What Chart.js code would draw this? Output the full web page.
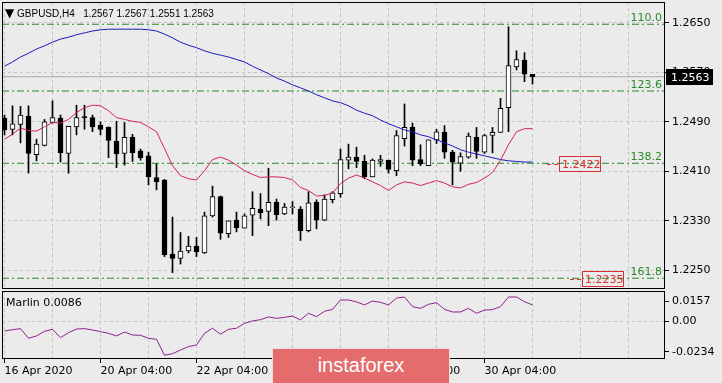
<!DOCTYPE html>
<html>
<head>
<meta charset="utf-8">
<script src="https://cdn.jsdelivr.net/npm/chart.js@4.4.0/dist/chart.umd.min.js"></script>
<style>
  body { margin: 0; width: 722px; height: 383px; overflow: hidden; position: relative; background: #ebebeb; }
  canvas { position: absolute; left: 0; }
  #main { top: 0; }
  #osc { top: 290px; }
  .txt { position: absolute; font-family: "DejaVu Sans", sans-serif; font-size: 11px; color: #000; white-space: pre; }
  #hdr { left: 5px; top: 6px; font-family: "Liberation Sans", sans-serif; font-size: 10px; }
  #hdr b { font-weight: normal; font-family: "DejaVu Sans", sans-serif; font-size: 12px; }
  #marlin { left: 6px; top: 296px; }
  #wm { position: absolute; left: 272px; top: 348px; width: 176px; height: 35px; background: #e46c6c;
        border: 1px solid #f4dada; border-bottom: none; color: #fff; font-family: "Liberation Sans", sans-serif;
        font-size: 20px; text-align: center; line-height: 33px; }
</style>
</head>
<body>
<canvas id="main" width="722" height="290"></canvas>
<canvas id="osc" width="722" height="93"></canvas>
<div class="txt" id="hdr"><b>▼</b> GBPUSD,H4   1.2567 1.2567 1.2551 1.2563</div>
<div class="txt" id="marlin">Marlin 0.0086</div>
<div id="wm">instaforex</div>
<script>
// --- data (GBPUSD H4) ---
const open  = [1.2496,1.2478,1.2486,1.2499,1.2437,1.2452,1.2489,1.2496,1.2439,1.2482,
               1.2498,1.2497,1.2485,1.2481,1.2459,1.2439,1.2465,1.2443,1.2435,1.2400,
               1.2396,1.2276,1.2269,1.2281,1.2289,1.2278,1.2338,1.2369,1.2309,1.2331,
               1.2318,1.2339,1.2349,1.2345,1.2360,1.2341,1.2351,1.2349,1.2314,1.2360,
               1.2331,1.2364,1.2374,1.2428,1.2433,1.2426,1.2401,1.2426,1.2428,1.2411,
               1.2463,1.2481,1.2429,1.2419,1.2461,1.2473,1.2441,1.2423,1.2433,1.2465,
               1.2441,1.2468,1.2473,1.2513,1.2579,1.2590,1.2567];
const high  = [1.2501,1.2516,1.2515,1.2516,1.2462,1.2494,1.2524,1.2501,1.2483,1.2517,
               1.2517,1.2501,1.2490,1.2482,1.2491,1.2489,1.2470,1.2446,1.2441,1.2422,
               1.2397,1.2336,1.2311,1.2305,1.2303,1.2344,1.2386,1.2370,1.2330,1.2344,
               1.2341,1.2377,1.2374,1.2415,1.2365,1.2358,1.2361,1.2353,1.2377,1.2364,
               1.2372,1.2377,1.2446,1.2454,1.2449,1.2436,1.2430,1.2436,1.2428,1.2476,
               1.2519,1.2488,1.2453,1.2461,1.2478,1.2484,1.2444,1.2440,1.2472,1.2481,
               1.2470,1.2481,1.2528,1.2644,1.2605,1.2602,1.2567];
const low   = [1.2469,1.2469,1.2456,1.2407,1.2427,1.2451,1.2488,1.2425,1.2407,1.2469,
               1.2478,1.2474,1.2469,1.2432,1.2416,1.2420,1.2426,1.2428,1.2388,1.2380,
               1.2272,1.2246,1.2260,1.2278,1.2272,1.2277,1.2336,1.2300,1.2303,1.2312,
               1.2318,1.2306,1.2333,1.2322,1.2331,1.2340,1.2341,1.2298,1.2312,1.2317,
               1.2330,1.2359,1.2368,1.2414,1.2416,1.2398,1.2401,1.2418,1.2407,1.2403,
               1.2451,1.2419,1.2419,1.2419,1.2455,1.2431,1.2388,1.2410,1.2431,1.2431,
               1.2439,1.2440,1.2473,1.2474,1.2574,1.2555,1.2551];
const close = [1.2477,1.2487,1.2501,1.2439,1.2454,1.2490,1.2497,1.2440,1.2483,1.2497,
               1.2497,1.2482,1.2478,1.2460,1.2438,1.2465,1.2440,1.2432,1.2401,1.2393,
               1.2275,1.2269,1.2281,1.2289,1.2280,1.2338,1.2369,1.2310,1.2330,1.2319,
               1.2338,1.2350,1.2343,1.2360,1.2340,1.2352,1.2351,1.2314,1.2359,1.2331,
               1.2365,1.2375,1.2429,1.2433,1.2426,1.2401,1.2428,1.2429,1.2413,1.2468,
               1.2481,1.2428,1.2422,1.2461,1.2474,1.2441,1.2425,1.2434,1.2467,1.2442,
               1.2468,1.2473,1.2512,1.2581,1.2591,1.2567,1.2563];
// red and blue moving averages
const maRed  = [1.2462,1.2470,1.2480,1.2476,1.2475,1.2482,1.2489,1.2488,1.2494,1.2505,
                1.2513,1.2517,1.2516,1.2508,1.2497,1.2494,1.2491,1.2489,1.2482,1.2474,
                1.2447,1.2419,1.2403,1.2398,1.2396,1.2411,1.2429,1.2433,1.2428,1.2420,
                1.2411,1.2405,1.2400,1.2401,1.2401,1.2400,1.2396,1.2384,1.2379,1.2370,
                1.2371,1.2375,1.2390,1.2399,1.2404,1.2399,1.2393,1.2387,1.2379,1.2388,
                1.2393,1.2391,1.2387,1.2391,1.2395,1.2391,1.2385,1.2383,1.2389,1.2392,
                1.2399,1.2408,1.2428,1.2453,1.2474,1.2479,1.2479];
const maBlue = [1.2580,1.2587,1.2595,1.2601,1.2608,1.2613,1.2619,1.2624,1.2627,1.2631,
                1.2634,1.2637,1.2639,1.2640,1.2640,1.2640,1.2640,1.2640,1.2639,1.2637,
                1.2632,1.2626,1.2619,1.2614,1.2610,1.2605,1.2601,1.2598,1.2595,1.2591,
                1.2587,1.2580,1.2574,1.2568,1.2561,1.2556,1.2550,1.2545,1.2540,1.2534,
                1.2529,1.2524,1.2521,1.2516,1.2509,1.2504,1.2500,1.2493,1.2487,1.2482,
                1.2477,1.2474,1.2469,1.2466,1.2461,1.2456,1.2451,1.2445,1.2441,1.2438,
                1.2435,1.2432,1.2429,1.2427,1.2426,1.2425,1.2425];
// Marlin oscillator
const marlin = [-0.0073,-0.0063,-0.0055,-0.0129,-0.0111,-0.0075,-0.0060,-0.0124,-0.0086,-0.0058,
                -0.0055,-0.0065,-0.0078,-0.0091,-0.0111,-0.0081,-0.0104,-0.0106,-0.0129,-0.0137,
                -0.0259,-0.0247,-0.0219,-0.0193,-0.0180,-0.0091,-0.0052,-0.0098,-0.0060,-0.0052,
                -0.0014,0.0004,0.0014,0.0035,0.0024,0.0032,0.0042,0.0012,0.0063,0.0037,
                0.0078,0.0093,0.0165,0.0165,0.0150,0.0127,0.0157,0.0147,0.0127,0.0180,
                0.0188,0.0114,0.0101,0.0132,0.0144,0.0093,0.0073,0.0073,0.0101,0.0063,
                0.0088,0.0091,0.0114,0.0188,0.0188,0.0152,0.0127];
// fibo levels
const fiboNames  = ['110.0', '123.6', '138.2', '161.8'];
const fiboLevels = [1.2648, 1.2540, 1.2423, 1.2237];
// price labels placed on chart (value, bar)
const priceMarks = [{v: 1.2422, bar: 69.3}, {v: 1.2235, bar: 72.2}];
const lastPrice = 1.2563;
// axes
const priceTicks = [1.2250, 1.2330, 1.2410, 1.2490, 1.2570, 1.2650];
const oscTicks = [-0.0234, 0, 0.0157];
const timeLabels = {0: '16 Apr 2020', 12: '20 Apr 04:00', 24: '22 Apr 04:00', 36: '24 Apr 04:00', 48: '28 Apr 04:00', 60: '30 Apr 04:00'};
const dayTicks = [0, 6, 12, 18, 24, 30, 36, 42, 48, 54, 60, 66, 72, 78];

const X_MIN = -0.3125, X_MAX = X_MIN + 663 / 8;
const GRID = '#c2c2c2';
const FONT = {family: 'DejaVu Sans', size: 11};

const xy = arr => arr.map((v, i) => ({x: i, y: v}));
const hline = v => [{x: X_MIN, y: v}, {x: X_MAX, y: v}];
// chart.js reserves room for half a label at the ends of an axis, not wanted here
const noPad = s => { s.paddingTop = 0; s.paddingBottom = 0; s.paddingLeft = 0; s.paddingRight = 0; };

// black frame round the plot area
const frame = {
  id: 'frame',
  afterDraw(chart) {
    const {ctx, chartArea: a} = chart;
    ctx.save();
    ctx.strokeStyle = '#000';
    ctx.lineWidth = 1;
    ctx.strokeRect(a.left + 0.5, a.top + 0.5, a.right - a.left - 1, a.bottom - a.top - 1);
    ctx.restore();
  }
};

const marks = {
  id: 'marks',
  afterDraw(chart) {
    const {ctx, chartArea: a, scales: {x, y}} = chart;
    ctx.save();
    ctx.font = '11px "DejaVu Sans"';
    // fibo level names
    ctx.fillStyle = '#2a8a2a';
    ctx.textAlign = 'right';
    ctx.textBaseline = 'bottom';
    fiboLevels.forEach((v, i) => ctx.fillText(fiboNames[i], a.right - 3, Math.round(y.getPixelForValue(v))));
    // red price labels
    ctx.textAlign = 'left';
    ctx.textBaseline = 'middle';
    priceMarks.forEach(m => {
      const py = Math.round(y.getPixelForValue(m.v));
      const px = Math.round(x.getPixelForValue(m.bar));
      ctx.strokeStyle = '#d83030';
      ctx.beginPath();
      ctx.moveTo(px - 12, py + 0.5); ctx.lineTo(px - 8, py + 0.5);
      ctx.moveTo(px - 5, py + 0.5); ctx.lineTo(px - 1, py + 0.5);
      ctx.stroke();
      ctx.strokeRect(px + 0.5, py - 7.5, 41, 15);
      ctx.fillStyle = '#d83030';
      ctx.fillText(m.v.toFixed(4), px + 3, py + 1);
    });
    // current price on the axis
    const py = Math.round(y.getPixelForValue(lastPrice));
    ctx.fillStyle = '#000';
    ctx.fillRect(a.right + 1, py - 8, 47, 16);
    ctx.fillStyle = '#fff';
    ctx.fillText(lastPrice.toFixed(4), a.right + 6, py + 1);
    ctx.restore();
  }
};

new Chart(document.getElementById('main'), {
  type: 'line',
  data: {
    datasets: [
      {data: xy(maRed), borderColor: '#d42350', borderWidth: 1, pointRadius: 0, order: 0},
      {data: xy(maBlue), borderColor: '#1a1ab8', borderWidth: 1, pointRadius: 0, order: 0},
      {
        type: 'bar', order: 1, grouped: false, barThickness: 5, minBarLength: 1,
        data: open.map((o, i) => ({x: i, y: [o, close[i]]})),
        backgroundColor: c => close[c.dataIndex] < open[c.dataIndex] ? '#000' : '#fff',
        borderColor: '#000', borderWidth: 1, borderSkipped: false
      },
      {
        type: 'bar', order: 2, grouped: false, barThickness: 1,
        data: low.map((l, i) => ({x: i, y: [l, high[i]]})),
        backgroundColor: '#000', borderWidth: 0
      },
      ...fiboLevels.map(v => ({data: hline(v), borderColor: '#228b22', borderWidth: 1, borderDash: [7, 3, 2, 3], pointRadius: 0, order: 3})),
      {data: hline(lastPrice), borderColor: '#a9a9a9', borderWidth: 1, pointRadius: 0, order: 4}
    ]
  },
  options: {
    responsive: false, animation: false, devicePixelRatio: 1,
    layout: {padding: {left: 2, top: 2, right: 0, bottom: 1}},
    plugins: {legend: {display: false}, tooltip: {enabled: false}},
    scales: {
      x: {
        type: 'linear', min: X_MIN, max: X_MAX, offset: false,
        afterBuildTicks: s => { s.ticks = dayTicks.map(v => ({value: v})); },
        afterFit: s => { s.height = 0; noPad(s); },
        ticks: {display: false},
        grid: {color: GRID, offset: false, drawTicks: false},
        border: {display: false, dash: [3, 3]}
      },
      y: {
        position: 'right', min: 1.2650 - 266 / 6180, max: 1.2650 + 21 / 6180,
        afterBuildTicks: s => { s.ticks = priceTicks.map(v => ({value: v})); },
        afterFit: s => { s.width = 57; noPad(s); },
        ticks: {color: '#000', font: FONT, padding: 3, callback: v => v.toFixed(4)},
        grid: {color: GRID, tickColor: '#000', tickLength: 4, tickBorderDash: []},
        border: {display: false, dash: [3, 3]}
      }
    }
  },
  plugins: [frame, marks]
});

new Chart(document.getElementById('osc'), {
  type: 'line',
  data: {
    datasets: [{data: xy(marlin), borderColor: '#8e1f8e', borderWidth: 1, pointRadius: 0}]
  },
  options: {
    responsive: false, animation: false, devicePixelRatio: 1,
    layout: {padding: {left: 2, top: 1, right: 0, bottom: 0}},
    plugins: {legend: {display: false}, tooltip: {enabled: false}},
    scales: {
      x: {
        type: 'linear', min: X_MIN, max: X_MAX,
        afterBuildTicks: s => { s.ticks = dayTicks.map(v => ({value: v})); },
        afterFit: s => { s.height = 24; noPad(s); },
        ticks: {color: '#000', font: FONT, align: 'start', maxRotation: 0, autoSkip: false, padding: 2,
                callback: v => timeLabels[v] || ''},
        grid: {color: GRID, tickLength: 4, tickBorderDash: [],
               tickColor: c => (c.tick && timeLabels[c.tick.value]) ? '#000' : 'rgba(0,0,0,0)'},
        border: {display: false, dash: [3, 3]}
      },
      y: {
        position: 'right', min: -0.0288, max: 0.0234,
        afterBuildTicks: s => { s.ticks = oscTicks.map(v => ({value: v})); },
        afterFit: s => { s.width = 57; noPad(s); },
        ticks: {color: '#000', font: FONT, padding: 3, callback: v => v === 0 ? '0.00' : v.toFixed(4)},
        grid: {tickLength: 4, tickColor: '#000', tickBorderDash: [],
               color: c => (c.tick && c.tick.value === 0) ? GRID : 'rgba(0,0,0,0)'},
        border: {display: false, dash: [3, 3]}
      }
    }
  },
  plugins: [frame]
});
</script>
</body>
</html>
